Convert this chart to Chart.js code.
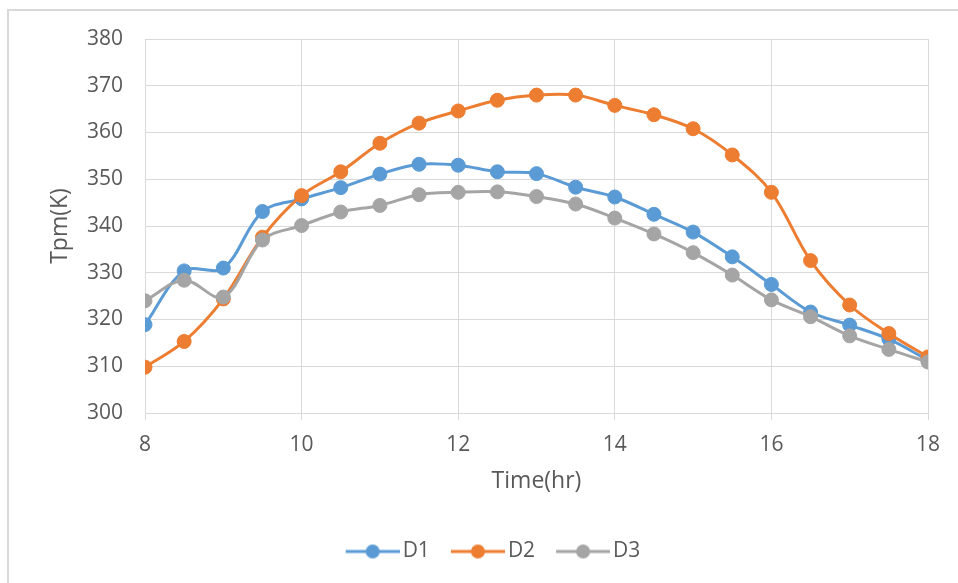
<!DOCTYPE html>
<html>
<head>
<meta charset="utf-8">
<script src="https://cdn.jsdelivr.net/npm/chart.js@4"></script>
<style>
  html, body { margin: 0; padding: 0; background: #ffffff; overflow: hidden; }
  #frame { position: absolute; left: 7px; top: 9px; width: 2000px; height: 2000px;
           border-top: 2px solid #d9d9d9; border-left: 2px solid #d9d9d9; }
  #c { position: absolute; left: 0; top: 0; }
</style>
</head>
<body>
<div id="frame"></div>
<canvas id="c" width="958" height="583"></canvas>
<script>
const times = [8, 8.5, 9, 9.5, 10, 10.5, 11, 11.5, 12, 12.5, 13, 13.5, 14, 14.5, 15, 15.5, 16, 16.5, 17, 17.5, 18];
const seriesNames = ['D1', 'D2', 'D3'];
const d1 = [318.9, 330.4, 331.0, 343.1, 345.8, 348.2, 351.1, 353.2, 353.0, 351.6, 351.2, 348.3, 346.2, 342.5, 338.7, 333.4, 327.5, 321.6, 318.8, 315.8, 311.3];
const d2 = [309.8, 315.3, 324.4, 337.6, 346.5, 351.6, 357.7, 362.0, 364.6, 366.9, 368.0, 368.0, 365.8, 363.8, 360.8, 355.2, 347.2, 332.6, 323.1, 317.0, 312.0];
const d3 = [324.0, 328.4, 324.8, 337.0, 340.1, 343.0, 344.4, 346.7, 347.2, 347.3, 346.3, 344.7, 341.7, 338.3, 334.3, 329.5, 324.2, 320.6, 316.5, 313.6, 310.9];
const colors = ['#5B9BD5', '#ED7D31', '#A5A5A5'];
const xTitle = 'Time(hr)';
const yTitle = 'Tpm(K)';

const FONT = "'Open Sans', 'Noto Sans', sans-serif";
const TEXT = '#595959';
const GRID = '#d9d9d9';

function legendImage(color) {
  const cv = document.createElement('canvas');
  cv.width = 69; cv.height = 18;
  const g = cv.getContext('2d');
  g.strokeStyle = color; g.lineWidth = 3;
  g.beginPath(); g.moveTo(15, 9); g.lineTo(69, 9); g.stroke();
  g.fillStyle = color;
  g.beginPath(); g.arc(42, 9, 7, 0, Math.PI * 2); g.fill();
  return cv;
}
const legendImgs = colors.map(legendImage);

const seriesData = [d1, d2, d3];
const datasets = seriesData.map((vals, i) => ({
  label: seriesNames[i],
  data: times.map((t, j) => ({ x: t, y: vals[j] })),
  borderColor: colors[i],
  backgroundColor: colors[i],
  pointBackgroundColor: colors[i],
  pointBorderColor: colors[i],
  borderWidth: 3,
  pointRadius: 7,
  pointBorderWidth: 1,
  tension: 0.35,
  fill: false,
  order: 3 - i
}));

new Chart(document.getElementById('c'), {
  type: 'line',
  data: { datasets },
  options: {
    responsive: false,
    animation: false,
    layout: { padding: { top: 39, left: 20.5, right: 0, bottom: 11 } },
    plugins: {
      tooltip: { enabled: false },
      legend: {
        position: 'bottom',
        labels: {
          usePointStyle: true,
          pointStyleWidth: 54,
          padding: 13.5,
          color: TEXT,
          font: { family: FONT, size: 21 },
          generateLabels(chart) {
            const items = Chart.defaults.plugins.legend.labels.generateLabels(chart);
            items.sort((a, b) => a.datasetIndex - b.datasetIndex);
            return items.map(it => Object.assign(it, { pointStyle: legendImgs[it.datasetIndex] }));
          }
        }
      }
    },
    scales: {
      x: {
        type: 'linear',
        min: 8, max: 18,
        ticks: { stepSize: 2, color: TEXT, padding: 12, font: { family: FONT, size: 21 } },
        grid: { color: GRID, lineWidth: 1, drawTicks: true, tickLength: 7, tickColor: GRID },
        border: { display: true, color: GRID, width: 1 },
        title: { display: true, text: xTitle, color: TEXT, font: { family: FONT, size: 23 },
                 padding: { top: 0, bottom: 32.2 } },
        afterFit(scale) { scale.height = 114.5; scale.paddingRight = 30; }
      },
      y: {
        min: 300, max: 380,
        ticks: { stepSize: 10, color: TEXT, padding: 22, font: { family: FONT, size: 21 } },
        grid: { color: GRID, lineWidth: 1, drawTicks: false },
        border: { display: true, color: GRID, width: 1 },
        title: { display: true, text: yTitle, color: TEXT, font: { family: FONT, size: 23 },
                 padding: { top: 25.7, bottom: 0 } },
        afterFit(scale) { scale.width = 124.5; }
      }
    }
  }
});
</script>
</body>
</html>
